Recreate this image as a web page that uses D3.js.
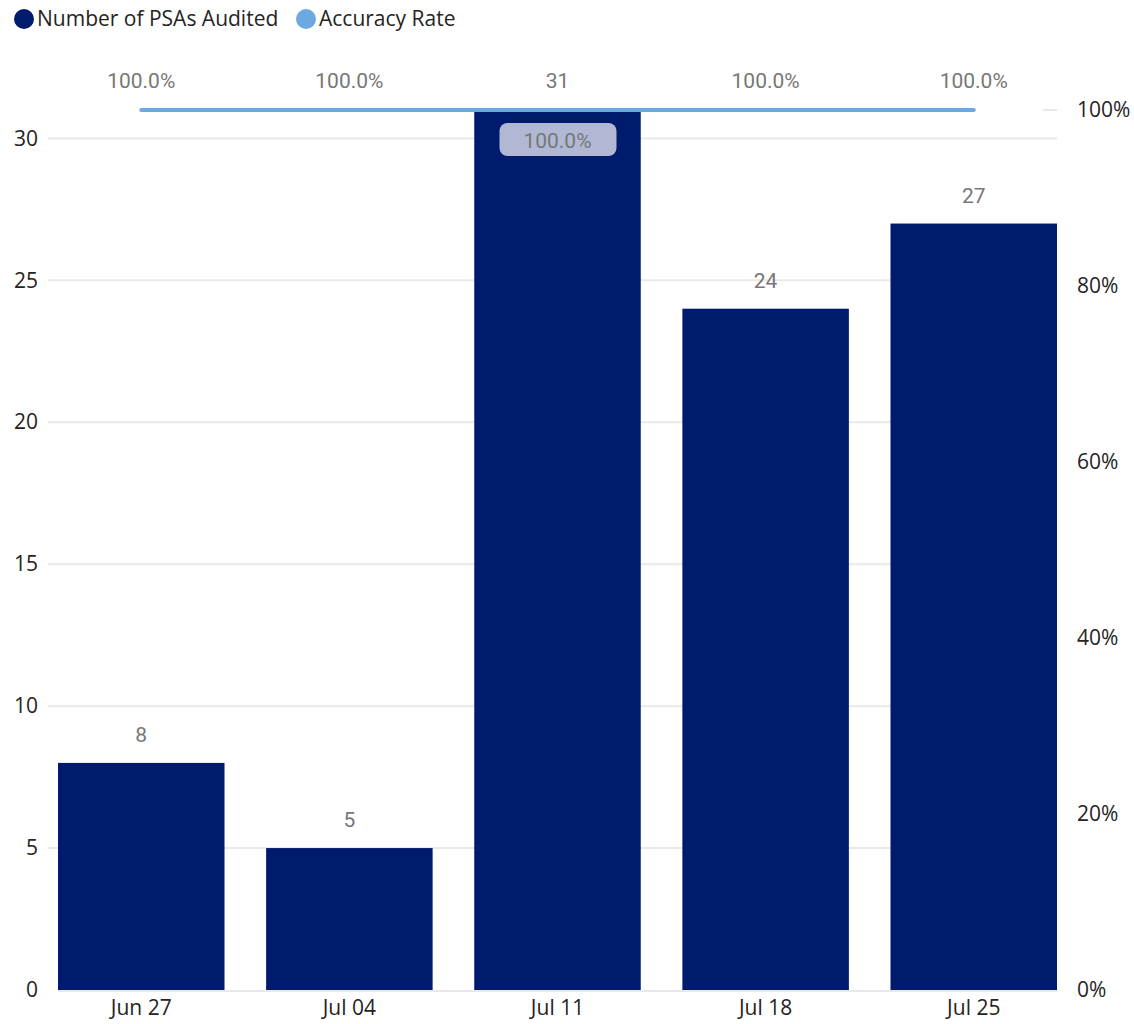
<!DOCTYPE html>
<html><head><meta charset="utf-8">
<script src="https://cdn.jsdelivr.net/npm/d3@7/dist/d3.min.js"></script>
<style>body{margin:0;background:#fff}</style>
</head><body>
<svg id="c" width="1134" height="1024"></svg>
<script>
const categories = ["Jun 27","Jul 04","Jul 11","Jul 18","Jul 25"];
const psasAudited = [8,5,31,24,27];
const accuracyRate = [1.0,1.0,1.0,1.0,1.0];
const leftTicks = [0,5,10,15,20,25,30];
const rightTicks = [0,0.2,0.4,0.6,0.8,1.0];

const barColor = "#001A6E", lineColor = "#6CA9E3";
const svg = d3.select("#c");
const x = d3.scaleBand().domain(categories).range([58,1057]).paddingInner(0.2).paddingOuter(0);
const yL = d3.scaleLinear().domain([0,31]).range([990,110]);
const yR = d3.scaleLinear().domain([0,1]).range([990,110]);
const tickFont = "'Open Sans', 'Noto Sans', sans-serif";
const labFont = "Roboto, sans-serif";
const tickSize = 21, labSize = 21;

// gridlines
svg.append("g").selectAll("line").data(leftTicks.filter(d=>d>0)).join("line")
  .attr("x1",48).attr("x2",1057).attr("y1",d=>yL(d)).attr("y2",d=>yL(d))
  .attr("stroke","#E9E9E9").attr("stroke-width",2);
svg.append("line").attr("x1",1043).attr("x2",1057).attr("y1",yR(1)).attr("y2",yR(1))
  .attr("stroke","#E9E9E9").attr("stroke-width",2);
svg.append("line").attr("x1",58).attr("x2",1057).attr("y1",991).attr("y2",991)
  .attr("stroke","#E9E9E9").attr("stroke-width",2);

// left axis
const axL = svg.append("g").attr("transform","translate(38,0)").call(d3.axisLeft(yL).tickValues(leftTicks).tickSize(0).tickPadding(0));
axL.select(".domain").remove();
axL.selectAll("text").attr("font-family",tickFont).attr("font-size",tickSize).attr("fill","#252423");
// right axis
const axR = svg.append("g").attr("transform","translate(1077,0)").call(d3.axisRight(yR).tickValues(rightTicks).tickFormat(d3.format(".0%")).tickSize(0).tickPadding(0));
axR.select(".domain").remove();
axR.selectAll("text").attr("font-family",tickFont).attr("font-size",tickSize).attr("fill","#252423");
// x axis
const axX = svg.append("g").attr("transform","translate(0,997)").call(d3.axisBottom(x).tickSize(0).tickPadding(0));
axX.select(".domain").remove();
axX.selectAll("text").attr("font-family",tickFont).attr("font-size",tickSize).attr("fill","#252423").attr("dy","0.85em");

// bars
svg.append("g").selectAll("rect").data(psasAudited).join("rect")
  .attr("x",(d,i)=>x(categories[i])).attr("width",x.bandwidth())
  .attr("y",d=>yL(d)).attr("height",d=>990-yL(d)).attr("fill",barColor);

// line
const line = d3.line().x((d,i)=>x(categories[i])+x.bandwidth()/2).y(d=>yR(d));
svg.append("path").datum(accuracyRate).attr("d",line).attr("fill","none")
  .attr("stroke",lineColor).attr("stroke-width",4).attr("stroke-linecap","round");

// bar labels
const topLabelY = 88;
psasAudited.forEach((v,i)=>{
  const cx = x(categories[i])+x.bandwidth()/2;
  const clash = yL(v) - 22 < 120;
  svg.append("text").attr("x",cx).attr("y", clash ? topLabelY : yL(v)-21)
    .attr("text-anchor","middle").attr("font-family",labFont).attr("font-size",labSize)
    .attr("fill","#777777").text(d3.format("d")(v));
});
// accuracy labels
accuracyRate.forEach((v,i)=>{
  const cx = x(categories[i])+x.bandwidth()/2;
  const txt = d3.format(".1%")(v);
  if (yL(psasAudited[i]) - 22 < 120) {
    svg.append("rect").attr("x",cx-58).attr("y",123).attr("width",117).attr("height",33)
      .attr("rx",8).attr("fill","#B0B8D4");
    svg.append("text").attr("x",cx).attr("y",148).attr("text-anchor","middle")
      .attr("font-family",labFont).attr("font-size",labSize).attr("fill","#777777").text(txt);
  } else {
    svg.append("text").attr("x",cx).attr("y",topLabelY).attr("text-anchor","middle")
      .attr("font-family",labFont).attr("font-size",labSize).attr("fill","#777777").text(txt);
  }
});

// legend
const leg = [{n:"Number of PSAs Audited",c:barColor,x:24},{n:"Accuracy Rate",c:lineColor,x:306}];
leg.forEach(l=>{
  svg.append("circle").attr("cx",l.x).attr("cy",19).attr("r",10).attr("fill",l.c);
  svg.append("text").attr("x",l.x+13).attr("y",26).attr("font-family",tickFont)
    .attr("font-size",21).attr("fill","#252423").text(l.n);
});
</script>
</body></html>
